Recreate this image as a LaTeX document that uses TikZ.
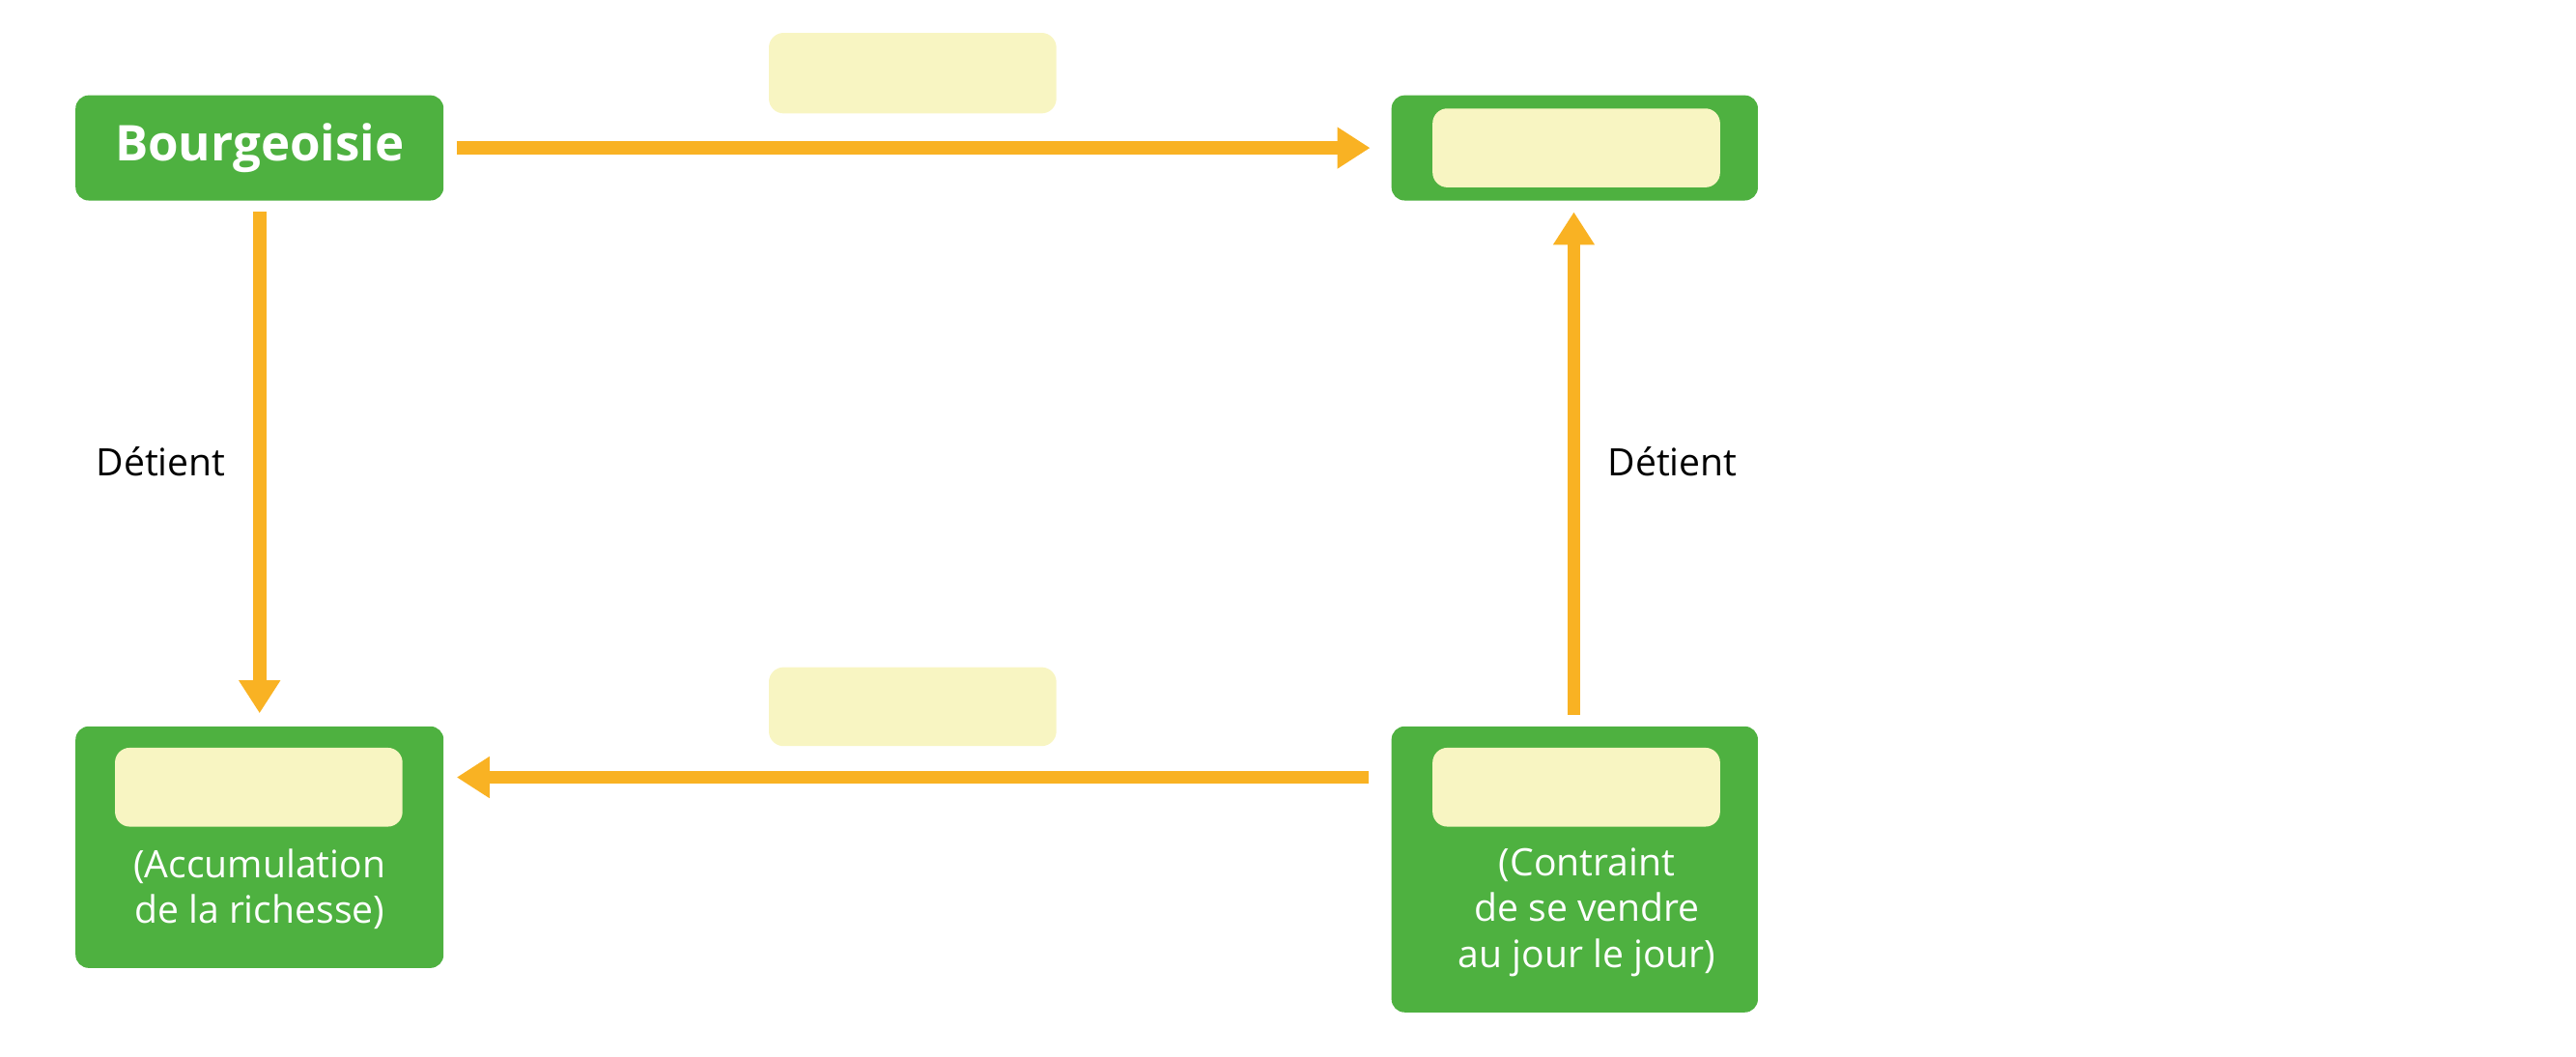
\documentclass[tikz,border=0pt]{standalone}
\usepackage{fontspec}
\setmainfont{Open Sans}
\usetikzlibrary{arrows.meta}
\definecolor{grn}{HTML}{4EB140}
\definecolor{org}{HTML}{F9B223}
\definecolor{pale}{HTML}{F8F5C2}
\begin{document}
\begin{tikzpicture}[x=1pt,y=-1pt,
  box/.style={fill=grn,rounded corners=8pt},
  pbox/.style={fill=pale,rounded corners=9pt},
  arr/.style={draw=org,line width=8pt,-{Triangle[length=20pt,width=24pt]}},
  txt/.style={font=\fontsize{23}{28}\selectfont,align=center}]
\useasboundingbox (0,0) rectangle (1568,643);
\fill[box] (46,58) rectangle (270,122);
\node[font=\fontsize{30}{34}\selectfont\bfseries,text=white] (bour) at (158,90) {Bourgeoisie};
\fill[box] (847,58) rectangle (1070,122);
\fill[pbox] (872,66) rectangle (1047,114);
\fill[pbox] (468,20) rectangle (643,69);
\fill[box] (46,442) rectangle (270,589);
\fill[pbox] (70,455) rectangle (245,503);
\node[txt,text=white] (acc) at (158,541) {(Accumulation\\de la richesse)};
\fill[box] (847,442) rectangle (1070,616);
\fill[pbox] (872,455) rectangle (1047,503);
\node[txt,text=white] (con) at (966,555) {(Contraint\\de se vendre\\au jour le jour)};
\fill[pbox] (468,406) rectangle (643,454);
\coordinate (a1) at (278,90); \coordinate (a2) at (834,90);
\coordinate (b1) at (158,129); \coordinate (b2) at (158,434);
\coordinate (c1) at (833,473); \coordinate (c2) at (278,473);
\coordinate (d1) at (958,435); \coordinate (d2) at (958,129);
\draw[arr] (a1) -- (a2);
\draw[arr] (b1) -- (b2);
\draw[arr] (c1) -- (c2);
\draw[arr] (d1) -- (d2);
\node[txt] (dl) at (98,281) {Détient};
\node[txt] (dr) at (1018,281) {Détient};
\end{tikzpicture}
\end{document}
